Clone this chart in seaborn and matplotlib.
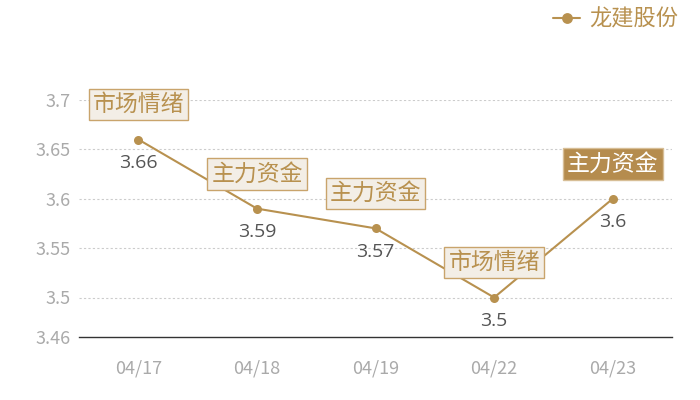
import matplotlib
matplotlib.use("Agg")
import matplotlib.pyplot as plt
import seaborn as sns
import pandas as pd

dates = ['04/17', '04/18', '04/19', '04/22', '04/23']
prices = [3.66, 3.59, 3.57, 3.5, 3.6]
tags = ['市场情绪', '主力资金', '主力资金', '市场情绪', '主力资金']
highlight = [False, False, False, False, True]
yticks = [3.46, 3.5, 3.55, 3.6, 3.65, 3.7]
series_name = '龙建股份'

gold = '#b8914f'

sns.set_style('white')
plt.rcParams['font.family'] = ['Noto Sans CJK SC', 'DejaVu Sans']

df = pd.DataFrame({'date': dates, 'price': prices, 'idx': range(len(dates))})

fig = plt.figure(figsize=(7, 4), dpi=100)
ax = fig.add_axes([0.113, 0.1575, 0.847, 0.5925])

sns.lineplot(data=df, x='idx', y='price', ax=ax, color=gold, lw=1.5,
             marker='o', markersize=6.5, markeredgewidth=0, label=series_name)

ax.set_xlim(-0.5, len(dates) - 0.5)
ax.set_ylim(3.46, 3.7)
ax.set_yticks(yticks)
ax.set_yticklabels([f'{v:g}' for v in yticks])
ax.set_xticks(range(len(dates)))
ax.set_xticklabels(dates)
ax.set_xlabel('')
ax.set_ylabel('')
ax.tick_params(axis='both', length=0, labelsize=13, colors='#aaaaaa')
ax.tick_params(axis='x', pad=16)
ax.tick_params(axis='y', pad=6)

for v in yticks[1:]:
    ax.axhline(v, color='#cccccc', lw=0.8, ls=(0, (2, 2)), zorder=0)

for s in ['top', 'right', 'left']:
    ax.spines[s].set_visible(False)
ax.spines['bottom'].set_color('#333333')
ax.spines['bottom'].set_linewidth(1)

for i, (p, t, h) in enumerate(zip(prices, tags, highlight)):
    ax.annotate(f'{p:g}', (i, p), xytext=(0, -17), textcoords='offset points',
                ha='center', va='center', fontsize=14, color='#555555',
                family=['Open Sans', 'DejaVu Sans'])
    if h:
        box = dict(boxstyle='square,pad=0.18', fc='#b58c4e', ec='#d7be96', lw=1)
        tc = 'white'
    else:
        box = dict(boxstyle='square,pad=0.18', fc='#f3eee6', ec='#c9a46c', lw=1)
        tc = gold
    ax.annotate(t, (i, p), xytext=(0, 25), textcoords='offset points',
                ha='center', va='center', fontsize=16.5, color=tc, bbox=box,
                annotation_clip=False)

leg = ax.legend(loc='center right', bbox_to_anchor=(1.01, 1.34), frameon=False,
                fontsize=16, handlelength=1.2, handletextpad=0.4,
                borderaxespad=0, borderpad=0, markerscale=1.2)
for txt in leg.get_texts():
    txt.set_color(gold)

fig.savefig('out.png', dpi=100)
